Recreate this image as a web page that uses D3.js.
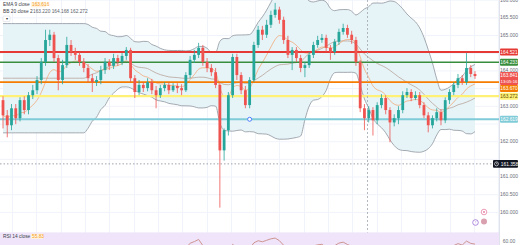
<!DOCTYPE html>
<html><head><meta charset="utf-8">
<script src="https://cdn.jsdelivr.net/npm/d3@7"></script>
<style>
html,body{margin:0;padding:0;background:#fff;overflow:hidden;}
svg{display:block;font-family:"Liberation Sans","Roboto",sans-serif;}
</style></head><body>
<svg id="c" width="520" height="245"></svg>
<script>
// ---- data ----
const opens = [163.16,162.73,162.45,162.93,162.65,163.16,162.88,163.30,163.44,163.73,
164.24,164.86,165.01,164.35,163.73,164.15,164.72,164.52,164.44,164.24,
164.07,163.78,163.67,163.73,164.01,164.24,164.13,164.35,164.24,164.41,
164.58,163.78,163.39,163.59,163.50,163.67,163.44,163.30,163.50,163.59,
163.44,163.56,163.50,163.44,163.87,164.30,164.44,164.64,164.24,164.07,
163.95,163.59,161.74,162.31,163.30,164.38,163.87,163.44,163.02,163.73,
164.72,165.15,165.01,165.29,165.57,165.72,165.43,164.86,164.44,164.58,
164.35,164.07,164.15,164.44,164.72,164.86,164.92,164.64,164.52,164.81,
165.09,165.20,165.01,164.86,164.24,162.93,162.65,162.88,162.59,163.02,
163.22,162.88,162.53,162.65,162.88,163.30,163.39,163.22,163.30,163.02,
162.73,162.45,162.65,162.82,162.59,163.16,163.39,163.59,163.78,163.67,
164.07,163.90];
const highs = [163.27,162.88,163.05,163.05,163.24,163.27,163.39,163.59,163.84,164.35,
165.15,165.15,165.09,164.44,164.30,164.95,164.86,164.64,164.52,164.35,
164.18,163.90,163.84,164.13,164.35,164.32,164.47,164.44,164.49,164.66,
164.64,163.87,163.73,163.67,163.78,163.76,163.56,163.59,163.67,163.67,
163.64,163.64,163.61,163.95,164.41,164.58,164.78,164.72,164.35,164.18,
164.07,163.67,162.36,163.39,164.47,164.47,163.95,163.56,163.81,164.81,
165.26,165.26,165.43,165.69,165.91,165.80,165.52,164.98,164.66,164.66,
164.44,164.24,164.52,164.81,164.98,165.03,165.01,164.72,164.89,165.18,
165.32,165.29,165.12,164.95,164.30,163.05,162.99,162.96,163.10,163.33,
163.30,162.96,162.76,162.99,163.41,163.50,163.47,163.41,163.39,163.10,
162.82,162.73,162.93,162.90,163.24,163.47,163.67,163.90,163.87,164.49,
164.15,163.98];
const lows = [162.36,162.11,162.31,162.48,162.56,162.76,162.76,163.19,163.33,163.61,
164.13,164.69,164.24,163.44,163.61,164.07,164.41,164.30,164.13,163.95,
163.67,163.39,163.56,163.61,163.90,164.01,164.04,164.13,164.15,164.30,
163.67,163.22,163.30,163.39,163.41,163.33,162.93,163.22,163.41,163.33,
163.39,163.36,163.30,163.39,163.78,164.21,164.35,164.13,163.95,163.84,
163.50,160.12,161.45,162.16,163.22,163.73,163.33,162.93,162.93,163.67,
164.64,164.86,164.92,165.20,165.49,165.32,164.75,164.35,164.01,164.24,
163.95,163.81,164.07,164.35,164.64,164.78,164.52,164.30,164.44,164.72,
165.01,164.92,164.75,164.13,162.82,162.31,162.53,162.16,162.48,162.93,
162.76,161.97,162.42,162.48,162.79,163.22,163.13,163.16,162.93,162.65,
162.25,162.36,162.56,162.45,162.51,163.05,163.30,163.50,163.59,163.59,
163.81,163.76];
const closes = [162.73,162.45,162.93,162.65,163.16,162.88,163.30,163.44,163.73,164.24,
164.86,165.01,164.35,163.73,164.15,164.72,164.52,164.44,164.24,164.07,
163.78,163.67,163.73,164.01,164.24,164.13,164.35,164.24,164.41,164.58,
163.78,163.39,163.59,163.50,163.67,163.44,163.30,163.50,163.59,163.44,
163.56,163.50,163.44,163.87,164.30,164.44,164.64,164.24,164.07,163.95,
163.59,161.74,162.31,163.30,164.38,163.87,163.44,163.02,163.73,164.72,
165.15,165.01,165.29,165.57,165.72,165.43,164.86,164.44,164.58,164.35,
164.07,164.15,164.44,164.72,164.86,164.92,164.64,164.52,164.81,165.09,
165.20,165.01,164.86,164.24,162.93,162.65,162.88,162.59,163.02,163.22,
162.88,162.53,162.65,162.88,163.30,163.39,163.22,163.30,163.02,162.73,
162.45,162.65,162.82,162.59,163.16,163.39,163.59,163.78,163.67,164.07,
163.90,163.841];
const priceTicks = [166.0,165.5,165.0,164.5,164.0,163.5,163.0,162.5,162.0,161.5,161.0,160.5,160.0];
const levelPrices = [164.521, 164.233, 163.670, 163.272, 162.619]; // red, green, orange, yellow, cyan
const alertPrice = 161.358;
const sessionBreakIndex = 85.5;
const markerIndex = 58;
const countdown = "13:05:16";
const rsiTickLabel = "60.00";

// ---- layout ----
const plotR = 499, mainBottom = 228, n = closes.length;
const svg = d3.select('#c');
const x = d3.scaleLinear().domain([0, n - 1]).range([3, 475]);
const y = d3.scaleLinear().domain([166, 160]).range([-0.3, 211.9]);
const fmt = d3.format('.3f');

// indicators
const k = 2 / 10; const ema = [];
closes.forEach((c, i) => ema.push(i ? c * k + ema[i - 1] * (1 - k) : c));
const bb = closes.map((c, i) => {
  const w = closes.slice(Math.max(0, i - 19), Math.max(20, i + 1));
  const m = d3.mean(w); const sd = Math.sqrt(d3.mean(w.map(v => (v - m) ** 2)));
  return {m, u: m + 2 * sd, l: m - 2 * sd};
});
let ag = 0, al = 0; const rsi = [50];
for (let i = 1; i < n; i++) {
  const d = closes[i] - closes[i - 1];
  const g = Math.max(d, 0), l = Math.max(-d, 0);
  if (i === 1) { ag = g; al = l; } else { ag = (ag * 13 + g) / 14; al = (al * 13 + l) / 14; }
  rsi.push(al === 0 ? 100 : 100 - 100 / (1 + ag / al));
}
const yr = d3.scaleLinear().domain([70, 60]).range([232.4, 240.7]);

// defs / clips
const defs = svg.append('defs');
defs.append('clipPath').attr('id', 'mainClip').append('rect').attr('x', 0).attr('y', 0).attr('width', plotR).attr('height', mainBottom);
defs.append('clipPath').attr('id', 'rsiClip').append('rect').attr('x', 0).attr('y', mainBottom + 1).attr('width', plotR).attr('height', 245 - mainBottom);

// grid
const g0 = svg.append('g');
g0.selectAll('line.h').data(priceTicks).join('line').attr('class', 'h')
  .attr('x1', 0).attr('x2', plotR).attr('y1', d => y(d) + 0.5).attr('y2', d => y(d) + 0.5)
  .attr('stroke', '#f0f3fa').attr('stroke-width', 1);
const vIdx = d3.range(2.1, n + 8, 5.72);
g0.selectAll('line.v').data(vIdx).join('line').attr('class', 'v')
  .attr('x1', d => Math.round(x(d)) + 0.5).attr('x2', d => Math.round(x(d)) + 0.5).attr('y1', 0).attr('y2', 245)
  .attr('stroke', '#f0f3fa').attr('stroke-width', 1);

// main pane
const main = svg.append('g').attr('clip-path', 'url(#mainClip)');
main.append('path').datum(bb)
  .attr('d', d3.area().x((d, i) => x(i)).y0(d => y(d.l)).y1(d => y(d.u)).curve(d3.curveMonotoneX))
  .attr('fill', '#e6f3f7');
['u', 'l'].forEach(key => main.append('path').datum(bb)
  .attr('d', d3.line().x((d, i) => x(i)).y(d => y(d[key])).curve(d3.curveMonotoneX))
  .attr('fill', 'none').attr('stroke', '#8f969e').attr('stroke-width', 0.8));
main.append('path').datum(bb)
  .attr('d', d3.line().x((d, i) => x(i)).y(d => y(d.m)).curve(d3.curveMonotoneX))
  .attr('fill', 'none').attr('stroke', '#b39a8e').attr('stroke-width', 0.7);
main.append('path').datum(ema)
  .attr('d', d3.line().x((d, i) => x(i)).y(d => y(d)).curve(d3.curveMonotoneX))
  .attr('fill', 'none').attr('stroke', '#f3a06a').attr('stroke-width', 0.7);

// session break
svg.append('line').attr('x1', Math.round(x(sessionBreakIndex)) + 0.5).attr('x2', Math.round(x(sessionBreakIndex)) + 0.5)
  .attr('y1', 0).attr('y2', 245).attr('stroke', '#a0a4ad').attr('stroke-width', 0.8).attr('stroke-dasharray', '2,2');

// level lines
const levelStyle = [
  {c: '#e53935', w: 2}, {c: '#388e3c', w: 1.6}, {c: '#f57c00', w: 1.6}, {c: '#fff176', w: 2.2}, {c: '#7fcbd8', w: 1.8}
];
main.selectAll('line.lv').data(levelPrices).join('line').attr('class', 'lv')
  .attr('x1', 0).attr('x2', plotR).attr('y1', d => y(d)).attr('y2', d => y(d))
  .attr('stroke', (d, i) => levelStyle[i].c).attr('stroke-width', (d, i) => levelStyle[i].w);
main.append('line').attr('x1', 0).attr('x2', plotR).attr('y1', y(alertPrice)).attr('y2', y(alertPrice))
  .attr('stroke', '#9598a1').attr('stroke-width', 0.9).attr('stroke-dasharray', '1.5,2');

// candles
const cd = closes.map((c, i) => ({i, o: opens[i], h: highs[i], l: lows[i], c}));
const col = d => d.c >= d.o ? '#26a69a' : '#ef5350';
main.selectAll('line.wk').data(cd).join('line').attr('class', 'wk')
  .attr('x1', d => x(d.i)).attr('x2', d => x(d.i)).attr('y1', d => y(d.h)).attr('y2', d => y(d.l))
  .attr('stroke', col).attr('stroke-width', 0.8);
main.selectAll('rect.bd').data(cd).join('rect').attr('class', 'bd')
  .attr('x', d => x(d.i) - 1.4).attr('width', 2.8)
  .attr('y', d => y(Math.max(d.o, d.c))).attr('height', d => Math.max(0.8, Math.abs(y(d.o) - y(d.c))))
  .attr('fill', col);

// marker circle on cyan level
main.append('circle').attr('cx', x(markerIndex)).attr('cy', y(levelPrices[4])).attr('r', 2)
  .attr('fill', '#fff').attr('stroke', '#2962ff').attr('stroke-width', 0.8);

// RSI pane
const rsiG = svg.append('g').attr('clip-path', 'url(#rsiClip)');
rsiG.append('rect').attr('x', 0).attr('y', yr(70)).attr('width', plotR).attr('height', 245 - yr(70)).attr('fill', '#efe4fa');
rsiG.append('path').datum(rsi)
  .attr('d', d3.line().x((d, i) => x(i)).y(d => yr(d)).defined((d, i) => i > 0))
  .attr('fill', 'none').attr('stroke', '#c98c86').attr('stroke-width', 0.9);

// price tags with simple collision avoidance
const cur = closes[n - 1];
const tags = levelPrices.map((p, i) => ({p, bg: levelStyle[i].c, fg: i === 3 ? '#5d4a00' : '#fff', h: 7, top: y(p) - 3.5}));
tags.push({p: cur, bg: '#ef5350', fg: '#fff', h: 13, top: y(cur) - 4, two: true});
tags.sort((a, b) => a.top - b.top);
let prevB = -10;
tags.forEach(t => { if (t.top < prevB) t.top = prevB; prevB = t.top + t.h; });
const ay = y(alertPrice);
const boxes = tags.map(t => [t.top, t.top + t.h]).concat([[ay - 3.8, ay + 3.8]]);

// axis
svg.append('line').attr('x1', plotR + 0.5).attr('x2', plotR + 0.5).attr('y1', 0).attr('y2', 245).attr('stroke', '#e0e3eb');
const visTicks = priceTicks.filter(t => boxes.every(([a, b]) => Math.min(b, y(t) + 2.2) - Math.max(a, y(t) - 2.2) < 0.6));
svg.append('g').selectAll('text').data(visTicks).join('text')
  .attr('x', 509).attr('y', d => y(d) + 1.8).attr('text-anchor', 'middle')
  .attr('font-size', 5).attr('fill', '#6a6d78').text(d => fmt(d));
svg.append('text').attr('x', 509).attr('y', 242.5).attr('text-anchor', 'middle').attr('font-size', 5).attr('fill', '#6a6d78').text(rsiTickLabel);

const tg = svg.append('g');
tags.forEach(t => {
  tg.append('rect').attr('x', 500).attr('y', t.top).attr('width', 18).attr('height', t.h).attr('rx', 1).attr('fill', t.bg);
  tg.append('text').attr('x', 509).attr('y', t.top + 5.2).attr('text-anchor', 'middle').attr('font-size', 4.8).attr('fill', t.fg).text(fmt(t.p));
  if (t.two) tg.append('text').attr('x', 509).attr('y', t.top + 11.2).attr('text-anchor', 'middle').attr('font-size', 4.4).attr('fill', t.fg).text(countdown);
});
// alert tag
tg.append('rect').attr('x', 493).attr('y', ay - 3.8).attr('width', 25).attr('height', 7.6).attr('rx', 1).attr('fill', '#131722');
tg.append('circle').attr('cx', 496.5).attr('cy', ay).attr('r', 2).attr('fill', 'none').attr('stroke', '#fff').attr('stroke-width', 0.6);
tg.append('path').attr('d', `M496.5,${ay - 1.2}V${ay}H497.6`).attr('fill', 'none').attr('stroke', '#fff').attr('stroke-width', 0.5);
tg.append('text').attr('x', 509.5).attr('y', ay + 1.8).attr('text-anchor', 'middle').attr('font-size', 4.8).attr('fill', '#fff').text(fmt(alertPrice));

// bottom right icons
const ic = svg.append('g');
ic.append('circle').attr('cx', 484).attr('cy', 212).attr('r', 2.8).attr('fill', '#fff').attr('stroke', '#e57399').attr('stroke-width', 0.7);
ic.append('circle').attr('cx', 484).attr('cy', 212).attr('r', 0.9).attr('fill', '#e57399');
ic.append('circle').attr('cx', 484).attr('cy', 221.5).attr('r', 3).attr('fill', '#d9a0b0');
ic.append('circle').attr('cx', 475.5).attr('cy', 222.5).attr('r', 2.8).attr('fill', '#fff').attr('stroke', '#8e5bd0').attr('stroke-width', 0.7);
ic.append('text').attr('x', 475.5).attr('y', 224.2).attr('text-anchor', 'middle').attr('font-size', 4).attr('fill', '#8e5bd0').text('!');

// legends
const lg = svg.append('g').attr('font-size', 4.8);
const last = bb[n - 1];
lg.append('text').attr('x', 3).attr('y', 6).attr('fill', '#3b3e48').text('EMA 9 close');
lg.append('rect').attr('x', 31).attr('y', 1.8).attr('width', 15).attr('height', 5.6).attr('fill', '#fff3e0');
lg.append('text').attr('x', 32).attr('y', 6).attr('fill', '#f59c1a').text(fmt(ema[n - 1]));
lg.append('text').attr('x', 3).attr('y', 13).attr('fill', '#3b3e48').text('BB 20 close 2');
lg.append('text').attr('x', 33).attr('y', 13).attr('fill', '#5b5f6b').text(`${fmt(last.m)} ${fmt(last.u)} ${fmt(last.l)}`);
lg.append('rect').attr('x', 3).attr('y', 16).attr('width', 7).attr('height', 5.5).attr('rx', 1).attr('fill', '#fff').attr('stroke', '#d1d4dc').attr('stroke-width', 0.5);
lg.append('text').attr('x', 6.5).attr('y', 20.2).attr('text-anchor', 'middle').attr('font-size', 4).attr('fill', '#333').text('▾');
lg.append('text').attr('x', 3).attr('y', 237.5).attr('fill', '#3b3e48').text('RSI 14 close');
lg.append('rect').attr('x', 31).attr('y', 233.6).attr('width', 12).attr('height', 5.4).attr('fill', '#fff3e0');
lg.append('text').attr('x', 32).attr('y', 237.5).attr('fill', '#f59c1a').text(d3.format('.2f')(rsi[n - 1]));
</script>
</body></html>
